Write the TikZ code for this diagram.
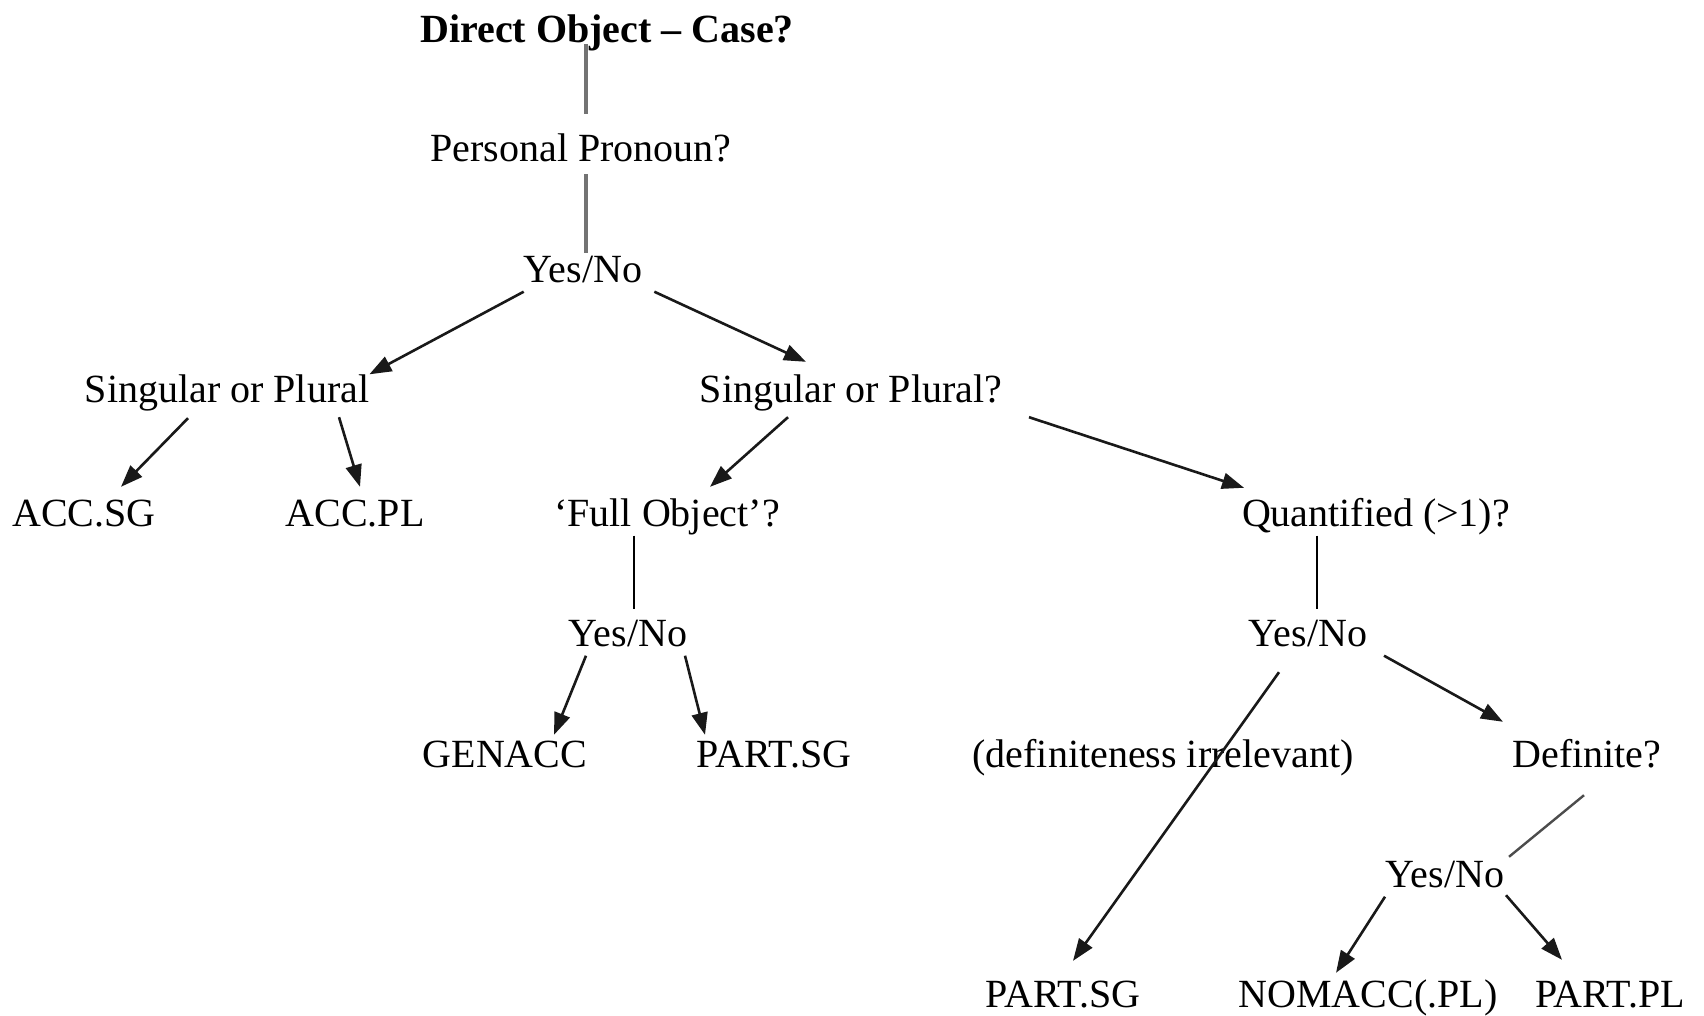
\documentclass[tikz,border=0pt]{standalone}
\usepackage{fontspec}
\setmainfont{Liberation Serif}
\usetikzlibrary{arrows.meta}

\newcommand\wordsize{\fontsize{40}{48}\selectfont}

\begin{document}
\begin{tikzpicture}[x=1pt, y=-1pt]
    \tikzstyle{word}=[font=\wordsize, inner sep=0pt, text height=28pt, text depth=9pt]
    \tikzstyle{arr}=[draw=black!90, line width=2.6pt, -{Triangle[length=22pt,width=16pt]}]
    \tikzstyle{stem}=[draw=black!55, line width=3.5pt]
    \tikzstyle{link}=[draw=black, line width=1.8pt]

    \useasboundingbox (0,0) rectangle (1704,1016);

    % Draw the title and the questions
    \node[word, font=\wordsize\bfseries] (title) at (607,33) {Direct Object – Case?};
    \node[word] (pp) at (581,152) {Personal Pronoun?};
    \node[word] (sp1) at (227,393) {Singular or Plural};
    \node[word] (sp2) at (851,393) {Singular or Plural?};

    % Draw the Yes/No nodes
    \foreach \name/\x/\y in {yn1/583/273, yn2/628/637, yn3/1308/637, yn4/1445/878}
        \node[word] (\name) at (\x,\y) {Yes/No};

    % Draw the remaining nodes, row by row
    \foreach \name/\x/\y/\txt in {accsg/84/517/ACC.SG, accpl/355/517/ACC.PL,
            full/667/517/‘Full Object’?, quant/1376/517/Quantified (>1)?,
            genacc/505/758/GENACC, partsg1/774/758/PART.SG,
            defirr/1163/758/(definiteness irrelevant), def/1587/758/Definite?,
            partsg2/1063/998/PART.SG, nomacc/1368/998/NOMACC(.PL), partpl/1610/998/PART.PL}
        \node[word] (\name) at (\x,\y) {\txt};

    % Top stems
    \draw[stem] ([xshift=-21pt,yshift=7.5pt]title.south) -- ([xshift=5pt,yshift=19.5pt]pp.north);
    \draw[stem] ([xshift=5pt,yshift=-3.5pt]pp.south) -- ([xshift=3pt,yshift=1.5pt]yn1.north);

    % Pronoun yes/no
    \draw[arr] (yn1.south west) -- (sp1.north east);
    \draw[arr] ([xshift=12pt]yn1.south east) -- ([xshift=-45pt,yshift=12.5pt]sp2.north);

    % Number, pronoun branch
    \draw[arr] ([xshift=-39pt,yshift=-6.5pt]sp1.south) -- ([xshift=37pt,yshift=11.5pt]accsg.north);
    \draw[arr] ([xshift=112pt,yshift=-5.5pt]sp1.south) -- ([xshift=5pt,yshift=11.5pt]accpl.north);

    % Number, noun branch
    \draw[arr] ([xshift=-63pt,yshift=-5.5pt]sp2.south) -- ([xshift=43pt,yshift=11.5pt]full.north);
    \draw[arr] ([xshift=178pt,yshift=-5.5pt]sp2.south) -- ([xshift=-132pt,yshift=10.5pt]quant.north);

    % Singular
    \draw[link] ([xshift=-33pt]full.south) -- ([xshift=6pt,yshift=9.5pt]yn2.north);
    \draw[arr] ([xshift=-42pt]yn2.south) -- ([xshift=49pt,yshift=4.5pt]genacc.north);
    \draw[arr] ([xshift=57pt]yn2.south) -- ([xshift=-69pt,yshift=4.5pt]partsg1.north);

    % Plural
    \draw[link] ([xshift=-59pt]quant.south) -- ([xshift=9pt,yshift=9.5pt]yn3.north);
    \draw[arr] ([xshift=-29pt,yshift=-16.5pt]yn3.south) -- ([xshift=10pt,yshift=18.5pt]partsg2.north);
    \draw[arr] ([xshift=76pt]yn3.south) -- ([xshift=-84pt,yshift=17.5pt]def.north);
    \draw[draw=black!70, line width=2.4pt] ([xshift=-3pt,yshift=-18.5pt]def.south) -- ([xshift=64pt,yshift=2.5pt]yn4.north);
    \draw[arr] ([xshift=-60pt]yn4.south) -- ([xshift=-32pt,yshift=6.5pt]nomacc.north);
    \draw[arr] ([xshift=61pt,yshift=1.5pt]yn4.south) -- ([xshift=-48pt,yshift=19.5pt]partpl.north);
\end{tikzpicture}
\end{document}
